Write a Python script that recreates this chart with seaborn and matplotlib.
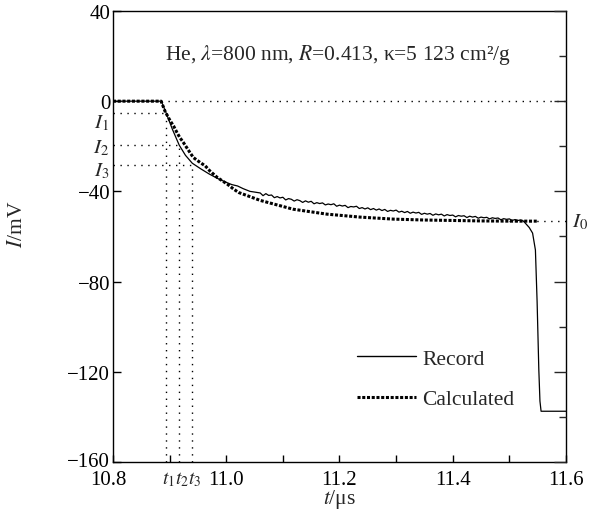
import numpy as np
import pandas as pd
import matplotlib
matplotlib.use("Agg")
import matplotlib.pyplot as plt
import matplotlib.transforms as mtransforms
from matplotlib.ticker import FixedLocator, MultipleLocator
from matplotlib.lines import Line2D
import seaborn as sns

# ---------------- data ----------------
rec_t = [10.800, 10.840, 10.885, 10.887, 10.894, 10.905, 10.917, 10.928, 10.940,
         10.955, 10.970, 10.985, 11.000, 11.010, 11.020, 11.030, 11.042, 11.050,
         11.060, 11.065, 11.070, 11.075, 11.080, 11.085, 11.090, 11.095, 11.100,
         11.105, 11.110, 11.115, 11.120, 11.125, 11.130, 11.135, 11.140, 11.145,
         11.150, 11.155, 11.160, 11.165, 11.170, 11.175, 11.180, 11.185, 11.190,
         11.195, 11.200, 11.205, 11.210, 11.215, 11.220, 11.225, 11.230, 11.235,
         11.240, 11.245, 11.250, 11.255, 11.260, 11.265, 11.270, 11.275, 11.280,
         11.285, 11.290, 11.295, 11.300, 11.305, 11.310, 11.315, 11.320, 11.325,
         11.330, 11.335, 11.340, 11.345, 11.350, 11.355, 11.360, 11.365, 11.370,
         11.375, 11.380, 11.385, 11.390, 11.395, 11.400, 11.405, 11.410, 11.415,
         11.420, 11.425, 11.430, 11.435, 11.440, 11.445, 11.450, 11.455, 11.460,
         11.465, 11.470, 11.475, 11.480, 11.485, 11.490, 11.495, 11.500, 11.505,
         11.510, 11.515, 11.520, 11.525, 11.535, 11.541, 11.546, 11.549, 11.552,
         11.554, 11.556, 11.600]
rec_I = [0.0, 0.0, 0.0, -1.0, -5.3, -12.5, -19.5, -24.0, -27.5,
         -30.0, -32.3, -34.3, -36.0, -37.0, -37.6, -38.8, -40.0, -40.3,
         -40.7, -41.9, -41.0, -41.8, -41.6, -42.8, -42.3, -42.9, -42.6,
         -43.8, -43.2, -43.5, -44.3, -43.7, -44.1, -44.9, -44.2, -44.8,
         -44.4, -45.5, -45.0, -45.4, -45.1, -46.0, -45.6, -45.9, -45.5,
         -46.6, -46.1, -46.5, -46.2, -47.2, -46.7, -46.9, -46.6, -47.6,
         -47.2, -47.8, -47.3, -48.1, -47.6, -48.3, -47.8, -48.5, -48.0,
         -48.9, -48.4, -48.7, -48.3, -49.2, -48.8, -49.4, -48.9, -49.7,
         -49.2, -49.6, -49.3, -50.2, -49.7, -50.1, -49.8, -50.6, -50.0,
         -50.4, -50.1, -50.9, -50.3, -50.7, -50.5, -51.3, -50.7, -51.0,
         -50.8, -51.6, -51.0, -51.4, -51.1, -51.9, -51.4, -51.7, -51.5,
         -52.2, -51.7, -52.0, -51.8, -52.6, -52.1, -52.4, -52.2, -52.9,
         -52.5, -52.9, -52.7, -53.2, -56.0, -58.5, -66.0, -89.0, -119.0,
         -133.0, -137.5, -137.5]

calc_t = [10.800, 10.885, 10.892, 10.901, 10.907, 10.913, 10.918, 10.924, 10.930,
          10.936, 10.942, 10.954, 10.963, 10.971, 10.984, 10.993, 11.002, 11.013,
          11.022, 11.060, 11.118, 11.178, 11.236, 11.295, 11.350, 11.400, 11.450,
          11.500, 11.550]
calc_I = [0.0, 0.0, -4.5, -8.7, -11.0, -13.9, -16.1, -18.2, -20.5,
          -22.8, -25.0, -27.2, -28.7, -30.9, -33.8, -35.3, -36.8, -39.0,
          -40.5, -44.0, -47.9, -50.1, -51.4, -52.3, -52.7, -52.9, -53.1,
          -53.2, -53.2]

t_marks = [10.894, 10.917, 10.940]
I_marks = [-5.3, -19.5, -28.2]
I0 = -53.2
t_labels = ["$t_1$", "$t_2$", "$t_3$"]
I_labels = ["$I_1$", "$I_2$", "$I_3$"]
x_ticks = [10.8, 11.0, 11.2, 11.4, 11.6]
x_ticklabels = ["10.8", "11.0", "11.2", "11.4", "11.6"]
y_ticks = [40, 0, -40, -80, -120, -160]

# ---------------- style ----------------
sns.set_style("ticks")
plt.rcParams['font.family'] = ['Liberation Serif', 'DejaVu Serif']
plt.rcParams['mathtext.fontset'] = 'stix'
plt.rcParams['font.size'] = 15
plt.rcParams['axes.unicode_minus'] = True

FS = 15

fig = plt.figure(figsize=(5.99, 5.10), dpi=100)
ax = fig.add_axes([0.1886, 0.0922, 0.7563, 0.8843])

dot = (0, (1, 4))
ref_kw = dict(color='k', lw=1.0, ls=dot, zorder=1)

# reference dotted lines
ax.plot([calc_t[1], 11.6], [0, 0], **ref_kw)
for t, I in zip(t_marks, I_marks):
    ax.plot([10.8, t], [I, I], **ref_kw)
    ax.plot([t, t], [-160, I], **ref_kw)
ax.plot([11.5, 11.6], [I0, I0], **ref_kw)

df_rec = pd.DataFrame({"t": rec_t, "I": rec_I})
df_calc = pd.DataFrame({"t": calc_t, "I": calc_I})

sns.lineplot(data=df_rec, x="t", y="I", ax=ax, color='k', lw=0.9,
             estimator=None, sort=False, zorder=3)
sns.lineplot(data=df_calc, x="t", y="I", ax=ax, color='k', lw=2.2,
             estimator=None, sort=False, zorder=2,
             linestyle=(0, (1, 0.55)), dash_capstyle='butt')

ax.set_xlim(10.8, 11.6)
ax.set_ylim(-160, 40)
ax.set_xlabel("")
ax.set_ylabel("")

for s in ax.spines.values():
    s.set_visible(True)
    s.set_linewidth(1.0)
    s.set_color('k')

ax.xaxis.set_major_locator(FixedLocator(x_ticks))
ax.set_xticklabels(x_ticklabels)
ax.xaxis.set_minor_locator(FixedLocator([10.9, 11.1, 11.3, 11.5]))
ax.yaxis.set_major_locator(FixedLocator(y_ticks))
ax.tick_params(axis='x', which='both', direction='in', length=5, width=1.0,
               top=False, bottom=True, pad=6, labelsize=FS, colors='k')
ax.tick_params(axis='y', which='major', direction='in', length=6, width=1.0,
               left=True, right=False, pad=2, labelsize=FS, colors='k')
# nudge the corner labels apart, as in the reference
first = ax.get_xticklabels()[0]
first.set_transform(first.get_transform() +
                    mtransforms.ScaledTranslation(-5 / 100, 0, fig.dpi_scale_trans))
last_y = ax.get_yticklabels()[-1]
last_y.set_transform(last_y.get_transform() +
                     mtransforms.ScaledTranslation(0, 3 / 100, fig.dpi_scale_trans))

# right-hand ticks
ax2 = ax.twinx()
ax2.set_ylim(-160, 40)
ax2.yaxis.set_major_locator(MultipleLocator(40))
ax2.yaxis.set_minor_locator(MultipleLocator(20))
ax2.tick_params(axis='y', which='major', direction='in', length=9, width=1.0,
                labelright=False, right=True)
ax2.tick_params(axis='y', which='minor', direction='in', length=5, width=1.0,
                right=True)
for s in ax2.spines.values():
    s.set_visible(False)

# marker labels
blend_y = mtransforms.blended_transform_factory(ax.transAxes, ax.transData)
I_label_pos = [-9.3, -20.5, -30.5]
for lab, yv in zip(I_labels, I_label_pos):
    ax.text(-0.008, yv, lab, transform=blend_y, ha='right', va='center', fontsize=FS)
ax.text(1.013, I0, "$I_0$", transform=blend_y, ha='left', va='center', fontsize=FS)

blend_x = mtransforms.blended_transform_factory(ax.transData, ax.transAxes)
for lab, t in zip(t_labels, t_marks):
    ax.text(t + 0.004, -0.038, lab, transform=blend_x, ha='center', va='center', fontsize=14)

# annotation text
ax.text(0.115, 0.905, "He, $\\lambda$=800 nm, $R$=0.413, κ=5 123 cm²/g",
        transform=ax.transAxes, ha='left', va='center', fontsize=15.5)

# legend
handles = [Line2D([], [], color='k', lw=1.0),
           Line2D([], [], color='k', lw=2.2, linestyle=(0, (1, 0.55)), dash_capstyle='butt')]
leg = ax.legend(handles, ["Record", "Calculated"], frameon=False, loc='center left',
                bbox_to_anchor=(0.497, 0.184), handlelength=2.7, handletextpad=0.3,
                labelspacing=0.95, fontsize=15.5)

# axis labels
fig.text(18 / 599, 1 - 224 / 510, "$I$/mV", rotation=90, ha='center', va='center', fontsize=15.5)
fig.text(340 / 599, 1 - 500 / 510, "$t$/μs", ha='center', va='center', fontsize=15.5)

fig.savefig("out.png", dpi=100)
